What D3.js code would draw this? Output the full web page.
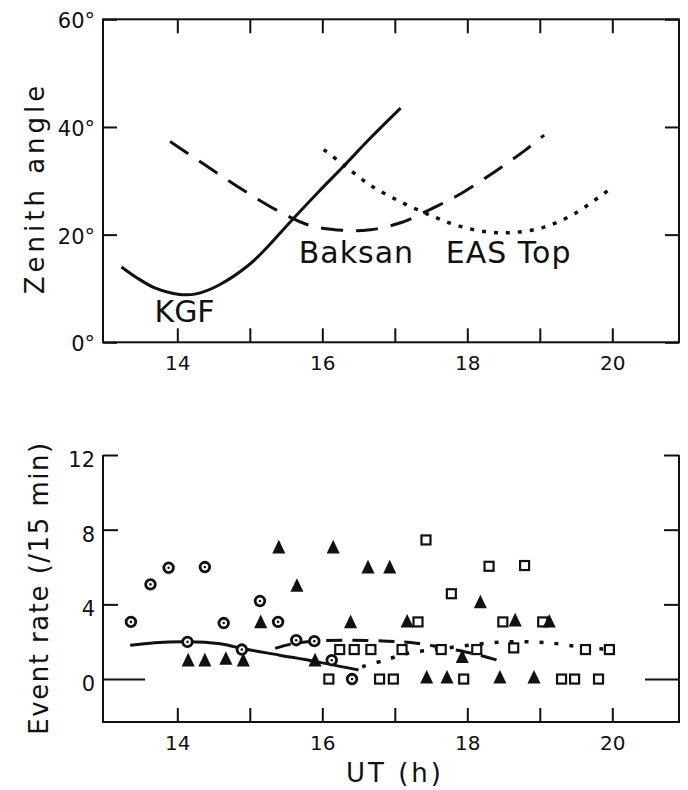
<!DOCTYPE html>
<html>
<head>
<meta charset="utf-8">
<script src="https://cdn.jsdelivr.net/npm/d3@7"></script>
<style>
  html, body { margin: 0; padding: 0; background: #fff; }
  svg { display: block; }
  text { font-family: "DejaVu Sans", sans-serif; fill: #111; }
</style>
</head>
<body>
<svg id="chart" width="688" height="790"></svg>
<script>
// ---------- data ----------
// Top panel: zenith angle (deg) vs UT (h)
const kgfZenith = [[13.23,14.0],[13.43,12.1],[13.69,10.1],[14.03,8.9],[14.26,9.0],[14.57,10.6],[14.99,14.4],[15.25,17.8],[15.56,22.4],[15.93,27.7],[16.30,32.8],[16.66,37.9],[17.08,43.5]];
const baksanZenith = [[13.90,37.3],[14.42,32.6],[14.94,28.0],[15.46,23.9],[15.83,21.7],[16.30,20.8],[16.66,20.9],[17.08,22.2],[17.49,24.7],[17.91,27.6],[18.38,31.7],[18.80,35.7],[19.06,38.5]];
const easTopZenith = [[16.02,35.8],[16.30,32.9],[16.66,29.2],[17.08,26.1],[17.49,23.6],[17.86,21.7],[18.28,20.5],[18.64,20.4],[19.06,21.4],[19.48,23.9],[19.95,28.3]];

// Bottom panel: event rate (/15 min) vs UT (h)
const kgfRate = [[13.36,3.06],[13.63,5.07],[13.88,5.96],[14.38,6.0],[15.14,4.18],[14.64,3.0],[15.39,3.06],[14.14,1.99],[14.89,1.58],[15.64,2.08],[15.89,2.03],[16.13,1.01],[16.41,0]];
const baksanRate = [[15.40,6.97],[16.15,6.97],[16.63,5.9],[16.93,5.9],[15.65,4.92],[18.18,4.03],[15.15,2.97],[16.39,2.97],[17.17,3.0],[18.66,3.06],[19.13,3.0],[14.15,0.92],[14.38,0.92],[14.67,1.01],[14.91,0.92],[15.90,0.92],[17.93,1.1],[17.44,0],[17.72,0],[18.45,0],[18.92,0]];
const easTopRate = [[17.43,7.45],[18.30,6.04],[18.79,6.08],[17.78,4.57],[17.32,3.06],[18.49,3.06],[19.04,3.06],[16.24,1.58],[16.44,1.58],[16.67,1.58],[17.10,1.58],[17.64,1.58],[18.13,1.58],[18.64,1.67],[19.63,1.58],[19.96,1.58],[16.09,0],[16.79,0],[16.98,0],[17.95,0],[19.30,0],[19.48,0],[19.81,0]];

const kgfRateCurve = [[13.35,1.81],[13.69,1.95],[14.14,2.0],[14.57,1.9],[14.89,1.64],[15.41,1.28],[15.93,0.92],[16.5,0.48]];
const baksanRateCurve = [[15.35,1.64],[15.6,1.9],[15.95,2.05],[16.4,2.08],[16.9,2.03],[17.3,1.92],[17.75,1.62],[18.1,1.35],[18.5,0.92]];
const easTopRateCurve = [[16.55,0.66],[16.85,1.0],[17.2,1.4],[17.6,1.6],[18.1,1.85],[18.6,2.0],[19.1,1.95],[19.6,1.7],[19.9,1.6]];

const xTicks = [14,15,16,17,18,19,20];
const xTickLabels = [14,16,18,20];
const zenithTicks = [0,20,40,60];
const rateTicks = [0,4,8,12];

// ---------- layout ----------
const svg = d3.select("#chart");
const L = 103, R = 679;
const x = d3.scaleLinear().domain([12.975, 20.92]).range([L, R]);
const yTop = d3.scaleLinear().domain([0, 60]).range([342.3, 19.3]);
const yBot = d3.scaleLinear().domain([-2.3, 12]).range([722, 455]);

const ink = "#111";
const tickLen = 14;

function styleAxis(g) {
  g.select(".domain").remove();
  g.selectAll(".tick line").attr("stroke", ink).attr("stroke-width", 2);
  g.selectAll(".tick text").style("font-family", '"DejaVu Sans", sans-serif').attr("fill", ink);
}

// ---------- top panel ----------
const topG = svg.append("g");
topG.append("rect").attr("x", L).attr("y", yTop(60)).attr("width", R - L).attr("height", yTop(0) - yTop(60))
  .attr("fill", "none").attr("stroke", ink).attr("stroke-width", 2);

topG.append("g").attr("transform", `translate(0,${yTop(0)})`)
  .call(d3.axisBottom(x).tickValues(xTicks).tickSize(-tickLen).tickPadding(14)
    .tickFormat(d => xTickLabels.includes(d) ? d : ""))
  .call(styleAxis)
  .call(g => g.selectAll(".tick text").style("font-size", "20px"));
topG.append("g").attr("transform", `translate(0,${yTop(60)})`)
  .call(d3.axisTop(x).tickValues(xTicks).tickSize(-tickLen).tickFormat(""))
  .call(styleAxis);
topG.append("g").attr("transform", `translate(${L},0)`)
  .call(d3.axisLeft(yTop).tickValues(zenithTicks).tickSize(-tickLen).tickPadding(8).tickFormat(d => d + "°"))
  .call(styleAxis)
  .call(g => g.selectAll(".tick text").style("font-size", "21px").attr("dy", "0.4em"));
topG.append("g").attr("transform", `translate(${R},0)`)
  .call(d3.axisRight(yTop).tickValues(zenithTicks).tickSize(-tickLen).tickFormat(""))
  .call(styleAxis);

const lineTop = d3.line().x(d => x(d[0])).y(d => yTop(d[1])).curve(d3.curveCatmullRom);
topG.append("path").datum(kgfZenith).attr("d", lineTop)
  .attr("fill", "none").attr("stroke", ink).attr("stroke-width", 3);
topG.append("path").datum(baksanZenith).attr("d", lineTop)
  .attr("fill", "none").attr("stroke", ink).attr("stroke-width", 3).attr("stroke-dasharray", "22,13");
topG.append("path").datum(easTopZenith).attr("d", lineTop)
  .attr("fill", "none").attr("stroke", ink).attr("stroke-width", 3.5).attr("stroke-dasharray", "4,8");

topG.append("text").attr("x", x(14.1)).attr("y", yTop(3.7)).attr("text-anchor", "middle")
  .style("font-size", "30px").text("KGF");
topG.append("text").attr("x", x(16.47)).attr("y", yTop(14.7)).attr("text-anchor", "middle")
  .style("font-size", "30px").style("letter-spacing", "1px").text("Baksan");
topG.append("text").attr("x", x(18.57)).attr("y", yTop(14.7)).attr("text-anchor", "middle")
  .style("font-size", "30px").style("letter-spacing", "1px").text("EAS Top");

topG.append("text").attr("transform", `translate(44,188) rotate(-90)`).attr("text-anchor", "middle")
  .style("font-size", "26px").style("letter-spacing", "4px").text("Zenith angle");

// ---------- bottom panel ----------
const botG = svg.append("g");
botG.append("path").attr("d", `M${L},${yBot(12)}V${yBot(-2.3)}H${R}V${yBot(12)}`)
  .attr("fill", "none").attr("stroke", ink).attr("stroke-width", 2);

botG.append("g").attr("transform", `translate(0,${yBot(-2.3)})`)
  .call(d3.axisBottom(x).tickValues(xTicks).tickSize(-tickLen).tickPadding(14)
    .tickFormat(d => xTickLabels.includes(d) ? d : ""))
  .call(styleAxis)
  .call(g => g.selectAll(".tick text").style("font-size", "20px"));
botG.append("g").attr("transform", `translate(${L},0)`)
  .call(d3.axisLeft(yBot).tickValues(rateTicks).tickSize(-15).tickPadding(8))
  .call(styleAxis)
  .call(g => g.selectAll(".tick text").style("font-size", "21px").attr("dy", "0.55em"))
  .call(g => g.selectAll(".tick").filter(d => d === 0).select("line").attr("x2", 42));
botG.append("g").attr("transform", `translate(${R},0)`)
  .call(d3.axisRight(yBot).tickValues(rateTicks).tickSize(-15).tickFormat(""))
  .call(styleAxis)
  .call(g => g.selectAll(".tick").filter(d => d === 0).select("line").attr("x2", -34));

const lineBot = d3.line().x(d => x(d[0])).y(d => yBot(d[1])).curve(d3.curveCatmullRom);
botG.append("path").datum(kgfRateCurve).attr("d", lineBot)
  .attr("fill", "none").attr("stroke", ink).attr("stroke-width", 3);
botG.append("path").datum(baksanRateCurve).attr("d", lineBot)
  .attr("fill", "none").attr("stroke", ink).attr("stroke-width", 3).attr("stroke-dasharray", "16,10");
botG.append("path").datum(easTopRateCurve).attr("d", lineBot)
  .attr("fill", "none").attr("stroke", ink).attr("stroke-width", 3.5).attr("stroke-dasharray", "4,11");

// squares (EAS Top)
botG.append("g").selectAll("rect").data(easTopRate).join("rect")
  .attr("x", d => x(d[0]) - 4.5).attr("y", d => yBot(d[1]) - 4.5)
  .attr("width", 9).attr("height", 9)
  .attr("fill", "#fff").attr("stroke", ink).attr("stroke-width", 2.2);

// triangles (Baksan)
const tri = d3.symbol().type(d3.symbolTriangle).size(74);
botG.append("g").selectAll("path").data(baksanRate).join("path")
  .attr("d", tri)
  .attr("transform", d => `translate(${x(d[0])},${yBot(d[1])}) scale(1,1.2)`)
  .attr("fill", ink);

// circles with dot (KGF)
const cg = botG.append("g").selectAll("g").data(kgfRate).join("g")
  .attr("transform", d => `translate(${x(d[0])},${yBot(d[1])})`);
cg.append("circle").attr("r", 4.8).attr("fill", "#fff").attr("stroke", ink).attr("stroke-width", 2.8);
cg.append("circle").attr("r", 1.3).attr("fill", ink);

botG.append("text").attr("transform", `translate(48,588) rotate(-90)`).attr("text-anchor", "middle")
  .style("font-size", "26px").style("letter-spacing", "1.5px").text("Event rate (/15 min)");

svg.append("text").attr("x", 395).attr("y", 782).attr("text-anchor", "middle")
  .style("font-size", "26px").style("letter-spacing", "3px").text("UT (h)");
</script>
</body>
</html>
